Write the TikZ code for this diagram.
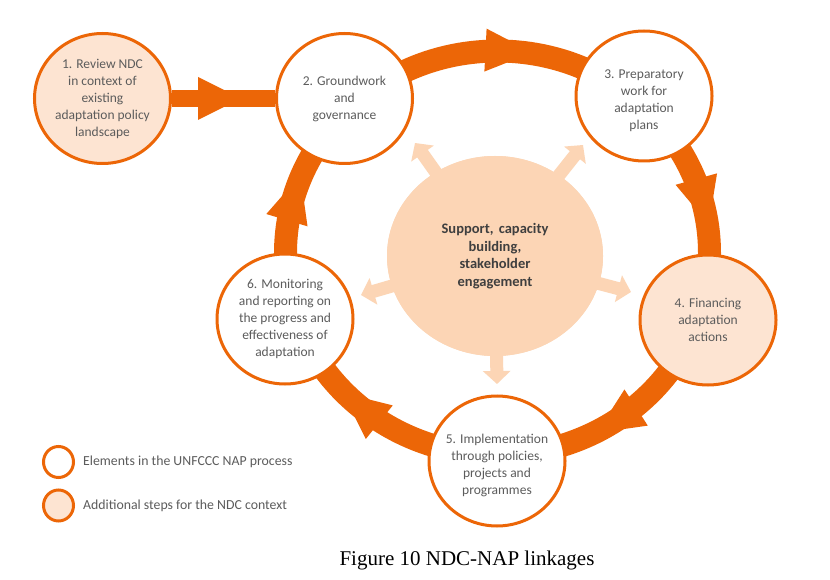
\documentclass[tikz,border=0pt]{standalone}
\usepackage{fontspec}
\setmainfont{Carlito}
\newfontfamily\capfont{Liberation Serif}
\usetikzlibrary{shapes.geometric,arrows.meta,calc,decorations.markings}
\definecolor{ndcorange}{HTML}{EC6607}
\definecolor{ndclight}{HTML}{FDE4D2}
\definecolor{ndcpeach}{HTML}{FCD5B5}
\definecolor{ndctext}{HTML}{5C5C5C}
\definecolor{ndcdark}{HTML}{3F3F3F}
\newcommand{\lowstrut}{\rule{0pt}{18pt}}
\begin{document}
\begin{tikzpicture}[x=1pt,y=1pt,
  stepcirc/.style={ellipse, draw=ndcorange, line width=3pt, fill=white,
    minimum width=136pt, minimum height=130pt, inner sep=-10pt, align=center,
    text=ndctext, font=\fontsize{13.5}{17}\selectfont},
  extracirc/.style={stepcirc, fill=ndclight},
  legcirc/.style={ellipse, draw=ndcorange, line width=3pt, fill=white,
    minimum width=30pt, minimum height=31pt, inner sep=0pt},
  legtext/.style={anchor=west, inner sep=0pt, text=ndctext, font=\fontsize{13.8}{16}\selectfont},
  ring/.style={draw=ndcorange, line width=23pt},
  link/.style={draw=ndcorange, line width=17pt},
  supportarrow/.style={draw=ndcpeach, line width=13pt, -{Triangle[length=13pt,width=27pt]}},
  supportcirc/.style={ellipse, fill=ndcpeach, minimum width=216pt, minimum height=200pt,
    inner sep=0pt, align=center, text=ndcdark, font=\bfseries\fontsize{14.5}{17.5}\selectfont}
]
\useasboundingbox (0,0) rectangle (830,579);
\fill[white] (0,0) rectangle (830,579);

% ring
\coordinate (R) at (497.5,326);
\draw[ring] (R) ellipse[x radius=212, y radius=202];
\foreach \t/\r in {86.9/-2.96, 14.7/-74.6, -55.9/-147.2, 229.9/141.3, 164.1/73.4} {
  \fill[ndcorange, shift={($(R)+(\t:212 and 202)$)}, rotate=\r]
    (-23.5,21.5) -- (23.5,0) -- (-23.5,-21.5) -- cycle;
}

% support circle and arrows
\node[supportcirc] (c) at (495,323) {};
\coordinate (t1) at (415,436);
\coordinate (t2) at (583,434);
\coordinate (t3) at (631,287);
\coordinate (t4) at (497,195);
\coordinate (t5) at (361,284);
\foreach \k in {1,...,5} { \draw[supportarrow] (c.center) -- (t\k); }
\node[supportcirc] (ctext) at (c.center) {Support,\hspace{2pt} capacity\\building,\\stakeholder\\engagement};

% step circles
\node[extracirc] (n1) at (102.5,480.5) {1. Review NDC\\in context of\\existing\\adaptation policy\\landscape};
\node[stepcirc] (n2) at (344.5,480.5) {2. Groundwork\\and\\governance};
\node[stepcirc] (n3) at (644,483) {\lowstrut 3. Preparatory\\work for\\adaptation\\plans};
\node[extracirc] (n4) at (708,259) {4. Financing\\adaptation\\actions};
\node[stepcirc] (n5) at (497,118) {\lowstrut 5. Implementation\\through policies,\\projects and\\programmes};
\node[stepcirc] (n6) at (285,260) {6. Monitoring\\and reporting on\\the progress and\\effectiveness of\\adaptation};

% connector 1 -> 2
\draw[link, postaction={decorate}, decoration={markings, mark=at position 47.5pt with {
  \fill[ndcorange] (-21.5pt,21.5pt) -- (21.5pt,0pt) -- (-21.5pt,-21.5pt) -- cycle;}}]
  (n1) -- (n2);

% legend
\node[legcirc] (l1) at (58.5,117) {};
\node[legcirc, fill=ndclight] (l2) at (58.5,73.5) {};
\node[legtext] (lt1) at (83,117) {Elements in the UNFCCC NAP process};
\node[legtext] (lt2) at (83,73.5) {Additional steps for the NDC context};

% caption
\node[font=\capfont\fontsize{21}{25}\selectfont, text=black] (cap) at (467,19) {Figure 10 NDC-NAP linkages};
\end{tikzpicture}
\end{document}
